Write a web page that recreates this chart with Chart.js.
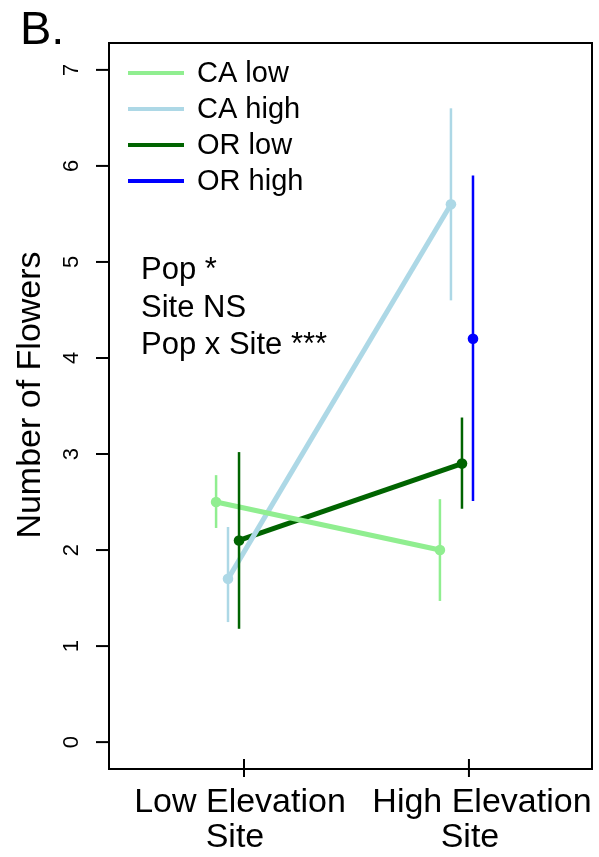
<!DOCTYPE html>
<html>
<head>
<meta charset="utf-8">
<script src="https://cdn.jsdelivr.net/npm/chart.js@4/dist/chart.umd.min.js"></script>
<style>
  html, body { margin: 0; padding: 0; background: #fff; }
  #wrap { width: 599px; height: 857px; position: relative; }
</style>
</head>
<body>
<div id="wrap"><canvas id="flowersChart"></canvas></div>
<script>
// Sites on the x axis (numeric positions 1 and 2)
const siteLabels = [['Low Elevation', 'Site'], ['High Elevation', 'Site']];
const siteValues = [1, 2];
const yTicks = [0, 1, 2, 3, 4, 5, 6, 7];

// Dodged x positions of each population at the two sites
const caLowX = [0.876, 1.871];
const caHighX = [0.929, 1.92];
const orLowX = [0.978, 1.969];
const orHighX = [null, 2.018];

// Mean number of flowers and error bar ends
const caLowMean = [2.5, 2.0];
const caLowLo = [2.23, 1.47];
const caLowHi = [2.78, 2.53];

const caHighMean = [1.7, 5.6];
const caHighLo = [1.25, 4.6];
const caHighHi = [2.24, 6.6];

const orLowMean = [2.1, 2.9];
const orLowLo = [1.18, 2.43];
const orLowHi = [3.02, 3.38];

const orHighMean = [null, 4.2];
const orHighLo = [null, 2.51];
const orHighHi = [null, 5.9];

const statLines = ['Pop *', 'Site NS', 'Pop x Site ***'];

const FONT = '"Liberation Sans", Arial, Helvetica, sans-serif';

const groups = [
    { label: 'CA low', x: caLowX, mean: caLowMean, lo: caLowLo, hi: caLowHi, color: '#90EE90', order: 1 },
    { label: 'CA high', x: caHighX, mean: caHighMean, lo: caHighLo, hi: caHighHi, color: '#ADD8E6', order: 2 },
    { label: 'OR low', x: orLowX, mean: orLowMean, lo: orLowLo, hi: orLowHi, color: '#006400', order: 3 },
    { label: 'OR high', x: orHighX, mean: orHighMean, lo: orHighLo, hi: orHighHi, color: '#0000FF', order: 4 }
];

function toPoints(xs, ys) {
    const pts = [];
    xs.forEach((x, i) => {
        if (x !== null && ys[i] !== null) pts.push({ x: x, y: ys[i] });
    });
    return pts;
}

const datasets = [];
// Error bars first (drawn on top, order 0)
groups.forEach(g => {
    g.x.forEach((x, i) => {
        if (x === null) return;
        datasets.push({
            data: [{ x: x, y: g.lo[i] }, { x: x, y: g.hi[i] }],
            borderColor: g.color,
            borderWidth: 2.5,
            pointRadius: 0,
            order: 0
        });
    });
});
// Mean lines with points
groups.forEach(g => {
    datasets.push({
        label: g.label,
        data: toPoints(g.x, g.mean),
        borderColor: g.color,
        backgroundColor: g.color,
        borderWidth: 5,
        pointRadius: 5.3,
        pointBorderWidth: 0,
        order: g.order
    });
});

// Frame, ticks, labels, legend and annotations in R base style
const rStylePlugin = {
    id: 'rStyle',
    afterDraw(chart) {
        const ctx = chart.ctx;
        const area = chart.chartArea;
        const xs = chart.scales.x;
        const ys = chart.scales.y;
        ctx.save();
        ctx.strokeStyle = '#000';
        ctx.fillStyle = '#000';
        ctx.lineWidth = 2;
        ctx.strokeRect(area.left, area.top, area.right - area.left, area.bottom - area.top);

        // y ticks and rotated labels
        ctx.font = '22px ' + FONT;
        ctx.textAlign = 'center';
        ctx.textBaseline = 'middle';
        yTicks.forEach(v => {
            const py = ys.getPixelForValue(v);
            ctx.beginPath();
            ctx.moveTo(area.left - 13, py);
            ctx.lineTo(area.left, py);
            ctx.stroke();
            ctx.save();
            ctx.translate(area.left - 38, py);
            ctx.rotate(-Math.PI / 2);
            ctx.fillText(String(v), 0, 1);
            ctx.restore();
        });

        // x ticks crossing the bottom line
        siteValues.forEach(v => {
            const px = xs.getPixelForValue(v);
            ctx.beginPath();
            ctx.moveTo(px, area.bottom - 10);
            ctx.lineTo(px, area.bottom + 8);
            ctx.stroke();
        });

        // x labels
        ctx.font = '34px ' + FONT;
        ctx.textBaseline = 'alphabetic';
        const lineShift = [[-4, -9], [13, 1]];
        siteValues.forEach((v, i) => {
            const px = xs.getPixelForValue(v);
            siteLabels[i].forEach((txt, j) => {
                ctx.fillText(txt, px + lineShift[i][j], area.bottom + 43 + j * 35);
            });
        });

        // y axis title
        ctx.save();
        ctx.translate(40, (area.top + area.bottom) / 2 - 11);
        ctx.rotate(-Math.PI / 2);
        ctx.font = '34px ' + FONT;
        ctx.textAlign = 'center';
        ctx.textBaseline = 'alphabetic';
        ctx.fillText('Number of Flowers', 0, 0);
        ctx.restore();

        // panel letter
        ctx.font = '47px ' + FONT;
        ctx.textAlign = 'left';
        ctx.fillText('B.', 20, 44);

        // legend
        ctx.font = '29px ' + FONT;
        ctx.textBaseline = 'middle';
        groups.forEach((g, i) => {
            const ly = area.top + 30 + i * 36;
            ctx.strokeStyle = g.color;
            ctx.lineWidth = 4;
            ctx.beginPath();
            ctx.moveTo(area.left + 19, ly);
            ctx.lineTo(area.left + 75, ly);
            ctx.stroke();
            ctx.fillStyle = '#000';
            ctx.fillText(g.label, area.left + 88, ly + 1);
        });

        // statistics text
        ctx.font = '31px ' + FONT;
        ctx.textBaseline = 'alphabetic';
        statLines.forEach((txt, i) => {
            ctx.fillText(txt, area.left + 32, 279 + i * 37.5);
        });
        ctx.restore();
    }
};

new Chart(document.getElementById('flowersChart'), {
    type: 'line',
    data: { datasets },
    options: {
        responsive: true,
        maintainAspectRatio: false,
        animation: false,
        layout: { padding: { left: 109, right: 7, top: 43, bottom: 88 } },
        plugins: { legend: { display: false }, tooltip: { enabled: false } },
        scales: {
            x: { type: 'linear', min: 0.4, max: 2.547, display: false },
            y: { type: 'linear', min: -0.28, max: 7.28, display: false }
        }
    },
    plugins: [rStylePlugin]
});
</script>
</body>
</html>
